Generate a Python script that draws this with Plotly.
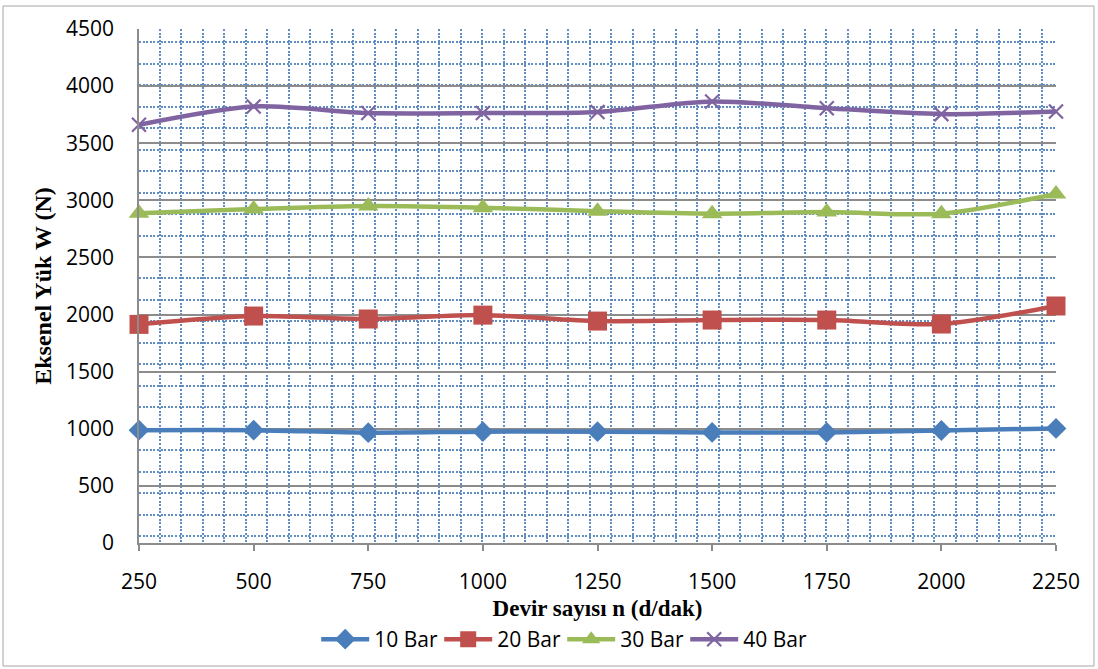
import plotly.graph_objects as go

# Shaft speed (rpm) and axial load readings for each supply pressure
devir = [250, 500, 750, 1000, 1250, 1500, 1750, 2000, 2250]
yuk_10bar = [988, 988, 966, 975, 975, 968, 968, 985, 1003]
yuk_20bar = [1914, 1987, 1961, 1995, 1943, 1952, 1952, 1917, 2075]
yuk_30bar = [2888, 2924, 2951, 2936, 2905, 2883, 2897, 2883, 3056]
yuk_40bar = [3662, 3822, 3764, 3764, 3773, 3866, 3807, 3755, 3778]

y_ticks = [0, 500, 1000, 1500, 2000, 2500, 3000, 3500, 4000, 4500]

series = [
    ("10 Bar", yuk_10bar, "#4A7EBB", dict(symbol="diamond", size=16)),
    ("20 Bar", yuk_20bar, "#C0504D", dict(symbol="square", size=19)),
    ("30 Bar", yuk_30bar, "#9BBB59", dict(symbol="triangle-up", size=18)),
    ("40 Bar", yuk_40bar, "#8064A2", dict(symbol="x-thin", size=14,
                                          line=dict(width=2.2, color="#8064A2"))),
]

fig = go.Figure()
for name, vals, color, mk in series:
    fig.add_trace(go.Scatter(
        x=devir, y=vals, name=name, mode="lines+markers",
        line=dict(color=color, width=4.5, shape="spline", smoothing=0.8),
        marker=dict(color=color, **mk),
        cliponaxis=False,
    ))

tick_font = dict(family="Open Sans, Liberation Sans, sans-serif", size=21, color="#000000")
dot_blue = "rgba(79,129,189,0.9)"

fig.update_layout(
    width=1098, height=669,
    margin=dict(l=139, r=42, t=29, b=126, autoexpand=False),
    paper_bgcolor="white", plot_bgcolor="white",
    showlegend=True,
    legend=dict(
        orientation="h", x=0.4615, xanchor="center", y=-0.148, yanchor="top",
        font=tick_font, itemwidth=48, traceorder="normal",
        entrywidth=60, entrywidthmode="pixels",
    ),
    xaxis=dict(
        range=[250, 2250], tickvals=devir, ticktext=[str(v) for v in devir],
        showgrid=False, zeroline=False, automargin=False,
        showline=True, linecolor="#8C8C8C", linewidth=1.5,
        ticks="outside", ticklen=6, tickcolor="#8C8C8C", tickwidth=1.5,
        tickfont=tick_font, ticklabelstandoff=13,
        title=dict(text="<b>Devir sayısı n (d/dak)</b>", standoff=6,
                   font=dict(family="Liberation Serif, Times New Roman, serif",
                             size=23, color="#000000")),
        minor=dict(tick0=295.2, dtick=46.91, showgrid=True, gridcolor=dot_blue,
                   gridwidth=2, griddash="2px,1.6px", ticks=""),
    ),
    yaxis=dict(
        range=[0, 4500], tickvals=y_ticks, ticktext=[str(v) for v in y_ticks],
        showgrid=True, gridcolor="#8C8C8C", gridwidth=1.5,
        zeroline=False, showline=True, linecolor="#8C8C8C", linewidth=1.5,
        automargin=False,
        ticks="", tickfont=tick_font, ticklabelstandoff=19,
        title=dict(text="<b>Eksenel Yük W (N)</b>", standoff=8,
                   font=dict(family="Liberation Serif, Times New Roman, serif",
                             size=24, color="#000000")),
        minor=dict(tick0=61.4, dtick=187.9, showgrid=True, gridcolor=dot_blue,
                   gridwidth=2, griddash="2px,1.6px", ticks=""),
    ),
)

# Thin frame around the whole chart area
fig.add_shape(type="rect", xref="paper", yref="paper",
              x0=-0.1483, x1=1.0414, y0=-0.2393, y1=1.0447,
              line=dict(color="#A6A6A6", width=1), layer="below")

fig.write_html("out.html")
